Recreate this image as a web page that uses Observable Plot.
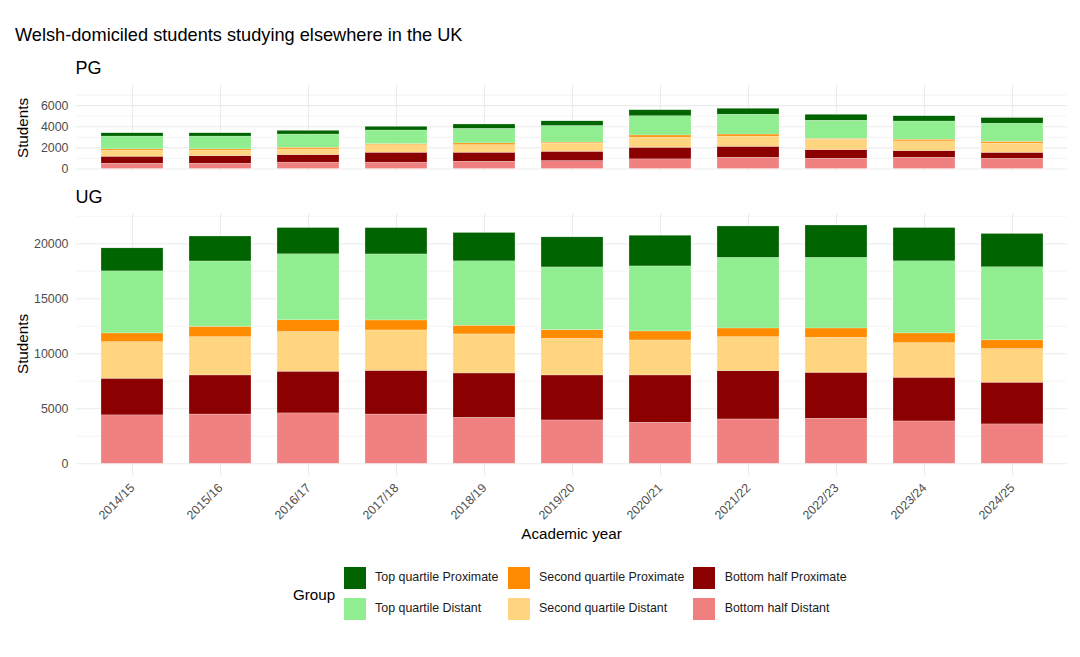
<!DOCTYPE html>
<html><head><meta charset="utf-8">
<script src="https://cdn.jsdelivr.net/npm/d3@7"></script>
<script src="https://cdn.jsdelivr.net/npm/@observablehq/plot@0.6"></script>
<style>
body{margin:0;background:#fff;font-family:"Liberation Sans",Arial,sans-serif;}
#root{position:relative;width:1080px;height:657px;overflow:hidden;background:#fff;}
.t{position:absolute;white-space:nowrap;line-height:1;color:#000;}
</style></head><body><div id="root"></div>
<script>
const years = ["2014/15","2015/16","2016/17","2017/18","2018/19","2019/20","2020/21","2021/22","2022/23","2023/24","2024/25"];
// stacking order, bottom to top
const groups = ["Bottom half Distant","Bottom half Proximate","Second quartile Distant","Second quartile Proximate","Top quartile Distant","Top quartile Proximate"];
const colors = ["#F08080","#8B0000","#FFD580","#FF8C00","#90EE90","#006400"];
const legendOrder = ["Top quartile Proximate","Top quartile Distant","Second quartile Proximate","Second quartile Distant","Bottom half Proximate","Bottom half Distant"];

// PG values (students)
const pgBottomDistant   = [500, 500, 600, 600, 690, 750, 910, 1070, 970, 1070, 970];
const pgBottomProximate = [660, 720, 720, 940, 850, 880, 1100, 1030, 820, 630, 560];
const pgSecondDistant   = [560, 500, 530, 720, 720, 780, 970, 970, 970, 910, 880];
const pgSecondProximate = [130, 130, 160, 90, 160, 90, 190, 190, 90, 160, 160];
const pgTopDistant      = [1220, 1220, 1250, 1290, 1380, 1570, 1820, 1880, 1720, 1720, 1720];
const pgTopProximate    = [310, 310, 350, 350, 410, 440, 570, 560, 560, 500, 530];

// UG values (students)
const ugBottomDistant   = [4400, 4480, 4580, 4480, 4180, 3940, 3730, 4030, 4090, 3850, 3580];
const ugBottomProximate = [3330, 3550, 3790, 3970, 4030, 4090, 4300, 4390, 4180, 3970, 3790];
const ugSecondDistant   = [3330, 3480, 3610, 3670, 3550, 3330, 3180, 3090, 3180, 3150, 3060];
const ugSecondProximate = [790, 940, 1060, 910, 790, 790, 820, 790, 850, 880, 790];
const ugTopDistant      = [5640, 5940, 6000, 6000, 5850, 5700, 5910, 6420, 6420, 6550, 6640];
const ugTopProximate    = [2090, 2270, 2390, 2390, 2580, 2730, 2790, 2850, 2940, 3030, 3030];

const pgTicks = [0, 2000, 4000, 6000];
const pgMinor = [1000, 3000, 5000, 7000];
const ugTicks = [0, 5000, 10000, 15000, 20000];
const ugMinor = [2500, 7500, 12500, 17500, 22500];

function longData(series) {
  const out = [];
  series.forEach((vals, gi) => vals.forEach((v, i) => out.push({year: years[i], group: groups[gi], value: v})));
  return out;
}
const pgData = longData([pgBottomDistant, pgBottomProximate, pgSecondDistant, pgSecondProximate, pgTopDistant, pgTopProximate]);
const ugData = longData([ugBottomDistant, ugBottomProximate, ugSecondDistant, ugSecondProximate, ugTopDistant, ugTopProximate]);

const root = document.getElementById("root");
function addText(txt, left, top, size, extra) {
  const d = document.createElement("div");
  d.className = "t";
  d.textContent = txt;
  d.style.left = left + "px";
  d.style.top = top + "px";
  d.style.fontSize = size + "px";
  if (extra) Object.assign(d.style, extra);
  root.appendChild(d);
  return d;
}
const grid = "#EBEBEB";
const tickFs = 12.4;
const common = {
  width: 1080, marginLeft: 76, marginRight: 13,
  style: {fontFamily: '"Liberation Sans", Arial, sans-serif', fontSize: tickFs + "px", color: "#4D4D4D", background: "transparent", overflow: "visible"},
  color: {domain: groups, range: colors}
};
function panel(data, yDomain, ticks, minor, opts) {
  return Plot.plot({
    ...common,
    height: opts.height, marginTop: opts.marginTop, marginBottom: opts.marginBottom,
    x: {type: "band", domain: years, paddingInner: 0.3, paddingOuter: 0.25, axis: null},
    y: {domain: yDomain},
    marks: [
      Plot.ruleY(minor, {stroke: grid, strokeWidth: 0.55}),
      Plot.ruleY(ticks, {stroke: grid, strokeWidth: 1.1}),
      Plot.gridX({stroke: grid, strokeOpacity: 1, strokeWidth: 1.1}),
      Plot.axisY({ticks: ticks, tickSize: 0, tickPadding: 8, tickFormat: d => String(d), label: null, fill: "#4D4D4D", fontSize: tickFs}),
      opts.xAxis ? Plot.axisX({tickSize: 0, tickPadding: 10, tickRotate: -45, label: null, fill: "#4D4D4D", fontSize: tickFs}) : null,
      Plot.barY(data, Plot.stackY({x: "year", y: "value", fill: "group", order: groups, stroke: "white", strokeWidth: 0.4, strokeOpacity: 0.6}))
    ]
  });
}

addText("Welsh-domiciled students studying elsewhere in the UK", 15, 25.6, 18.2);
addText("PG", 75.5, 59.1, 18);
addText("UG", 75.5, 187.5, 18);

const pg = panel(pgData, [-285, 7900], pgTicks, pgMinor, {height: 94, marginTop: 5, marginBottom: 2.5});
pg.style.position = "absolute"; pg.style.left = "0px"; pg.style.top = "80px";
root.appendChild(pg);

const ug = panel(ugData, [-1083, 22750], ugTicks, ugMinor, {height: 330, marginTop: 5, marginBottom: 62.8, xAxis: true});
ug.style.position = "absolute"; ug.style.left = "0px"; ug.style.top = "208px";
root.appendChild(ug);

const rot = {transform: "translate(-50%,-50%) rotate(-90deg)"};
addText("Students", 22.5, 128, 15.2, rot);
addText("Students", 22.5, 344, 15.2, rot);
addText("Academic year", 571.5, 526.1, 15.2, {transform: "translateX(-50%)"});

// legend
addText("Group", 293, 587.1, 15.2);
const colX = [343.6, 507.5, 693.2];
const rowY = [567, 598];
legendOrder.forEach((g, i) => {
  const c = Math.floor(i / 2), r = i % 2;
  const sw = document.createElement("div");
  sw.style.position = "absolute";
  sw.style.left = colX[c] + "px";
  sw.style.top = rowY[r] + "px";
  sw.style.width = "22px";
  sw.style.height = "22px";
  sw.style.background = colors[groups.indexOf(g)];
  root.appendChild(sw);
  addText(g, colX[c] + 31.5, rowY[r] + 4.2, tickFs, {color: "#1A1A1A"});
});
</script></body></html>
